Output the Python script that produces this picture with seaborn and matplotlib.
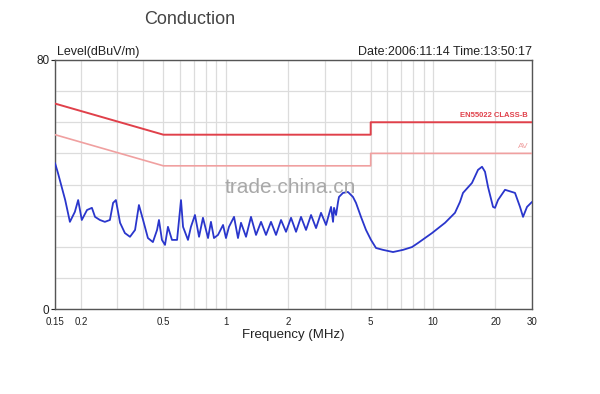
import matplotlib
matplotlib.use("Agg")
import matplotlib.pyplot as plt
import seaborn as sns
import pandas as pd

# ---- data ----
freq_mhz = [0.150, 0.155, 0.168, 0.177, 0.187, 0.194, 0.202, 0.214, 0.226, 0.234,
            0.247, 0.261, 0.276, 0.286, 0.295, 0.309, 0.326, 0.345, 0.365, 0.381,
            0.399, 0.421, 0.445, 0.466, 0.476, 0.492, 0.509, 0.526, 0.550, 0.582,
            0.608, 0.622, 0.657, 0.679, 0.710, 0.743, 0.776, 0.821, 0.848, 0.877,
            0.917, 0.970, 1.002, 1.036, 1.096, 1.145, 1.184, 1.252, 1.323, 1.399,
            1.479, 1.563, 1.652, 1.747, 1.847, 1.952, 2.064, 2.182, 2.306, 2.438,
            2.578, 2.725, 2.880, 3.045, 3.219, 3.291, 3.328, 3.403, 3.479, 3.516,
            3.675, 3.885, 4.107, 4.247, 4.489, 4.746, 5.017, 5.304, 5.733, 6.408,
            7.160, 7.911, 8.455, 9.881, 11.42, 12.75, 13.48, 13.94, 15.40, 16.47,
            17.22, 17.80, 18.41, 19.46, 19.89, 20.56, 22.23, 24.84, 26.26, 27.16,
            28.38, 30.0]
level_dbuv = [46.9, 43.7, 35.0, 28.0, 31.2, 35.0, 28.6, 31.8, 32.5, 29.6,
              28.6, 28.0, 28.6, 34.1, 35.0, 27.7, 24.4, 23.2, 25.4, 33.4,
              28.6, 22.8, 21.5, 25.4, 28.6, 22.2, 20.6, 26.4, 22.2, 22.2,
              35.0, 26.4, 22.2, 26.4, 30.2, 23.2, 29.3, 22.8, 28.0, 22.8,
              23.8, 27.0, 22.8, 26.4, 29.6, 22.8, 27.7, 23.2, 29.6, 23.8,
              28.0, 23.8, 28.0, 23.8, 28.6, 24.8, 29.3, 24.8, 29.6, 25.4,
              30.2, 26.0, 30.9, 27.0, 32.8, 28.0, 32.5, 30.2, 34.4, 36.0,
              37.3, 37.6, 36.0, 34.1, 29.6, 25.4, 22.2, 19.6, 19.0, 18.3,
              19.0, 19.9, 21.2, 24.4, 27.7, 30.9, 34.4, 37.3, 40.5, 44.7,
              45.7, 44.1, 39.2, 32.8, 32.5, 35.0, 38.3, 37.3, 32.8, 29.6,
              32.8, 34.4]

limit_freq = [0.15, 0.5, 5.0, 5.0, 30.0]
qp_limit = [66, 56, 56, 60, 60]
av_limit = [56, 46, 46, 50, 50]

xtick_vals = [0.15, 0.2, 0.5, 1, 2, 5, 10, 20, 30]
xtick_labels = ["0.15", "0.2", "0.5", "1", "2", "5", "10", "20", "30"]

trace = pd.DataFrame({"f": freq_mhz, "lvl": level_dbuv})
qp = pd.DataFrame({"f": limit_freq, "lvl": qp_limit})
av = pd.DataFrame({"f": limit_freq, "lvl": av_limit})

sns.set_style("white")
plt.rcParams["font.family"] = ["Liberation Sans", "DejaVu Sans"]

fig = plt.figure(figsize=(6.0, 3.94), dpi=100)
ax = fig.add_axes([55 / 600, 85 / 394, 477 / 600, 249 / 394])
ax.set_xscale("log")

sns.lineplot(data=qp, x="f", y="lvl", ax=ax, estimator=None, sort=False,
             color="#e0404a", linewidth=1.4, zorder=3)
sns.lineplot(data=av, x="f", y="lvl", ax=ax, estimator=None, sort=False,
             color="#f0a0a0", linewidth=1.2, zorder=3)
sns.lineplot(data=trace, x="f", y="lvl", ax=ax, estimator=None, sort=False,
             color="#2a36cc", linewidth=1.3, zorder=4)

ax.set_xlim(0.15, 30)
ax.set_ylim(0, 80)
ax.set_xticks(xtick_vals)
ax.set_xticklabels(xtick_labels)
ax.set_xticks([0.3, 0.4, 0.6, 0.7, 0.8, 0.9, 3, 4, 6, 7, 8, 9], minor=True)
ax.set_yticks([0, 80])
ax.set_yticks(range(10, 80, 10), minor=True)
ax.tick_params(axis="x", which="both", length=0, pad=6, labelsize=7, colors="#222222")
ax.tick_params(axis="y", which="major", length=3, pad=1, labelsize=8.5, left=True, colors="#222222")
ax.tick_params(axis="y", which="minor", length=0)
ax.grid(True, which="both", color="#dcdcdc", linewidth=0.9, zorder=0)
ax.set_axisbelow(True)
for s in ax.spines.values():
    s.set_color("#555555")
    s.set_linewidth(1.0)

ax.set_xlabel("Frequency (MHz)", fontsize=9.5, labelpad=1, color="#222222")
ax.set_ylabel("")

fig.text(190 / 600, 1 - 20 / 394, "Conduction", ha="center", va="center",
         fontsize=13, color="#444444")
ax.text(0.005, 1.01, "Level(dBuV/m)", transform=ax.transAxes, ha="left", va="bottom",
        fontsize=9, color="#222222")
ax.text(1.0, 1.01, "Date:2006:11:14 Time:13:50:17", transform=ax.transAxes,
        ha="right", va="bottom", fontsize=9, color="#222222")
ax.text(0.992, 61.2, "EN55022 CLASS-B", transform=ax.get_yaxis_transform(),
        ha="right", va="bottom", fontsize=5.5, fontweight="bold", color="#e0404a")
ax.text(0.992, 51.0, "AV", transform=ax.get_yaxis_transform(),
        ha="right", va="bottom", fontsize=6, color="#f0a0a0")
ax.text(0.493, 0.486, "trade.china.cn", transform=ax.transAxes, ha="center",
        va="center", fontsize=15, color="#a8a8a8", zorder=5)

fig.savefig("out.png", dpi=100)
